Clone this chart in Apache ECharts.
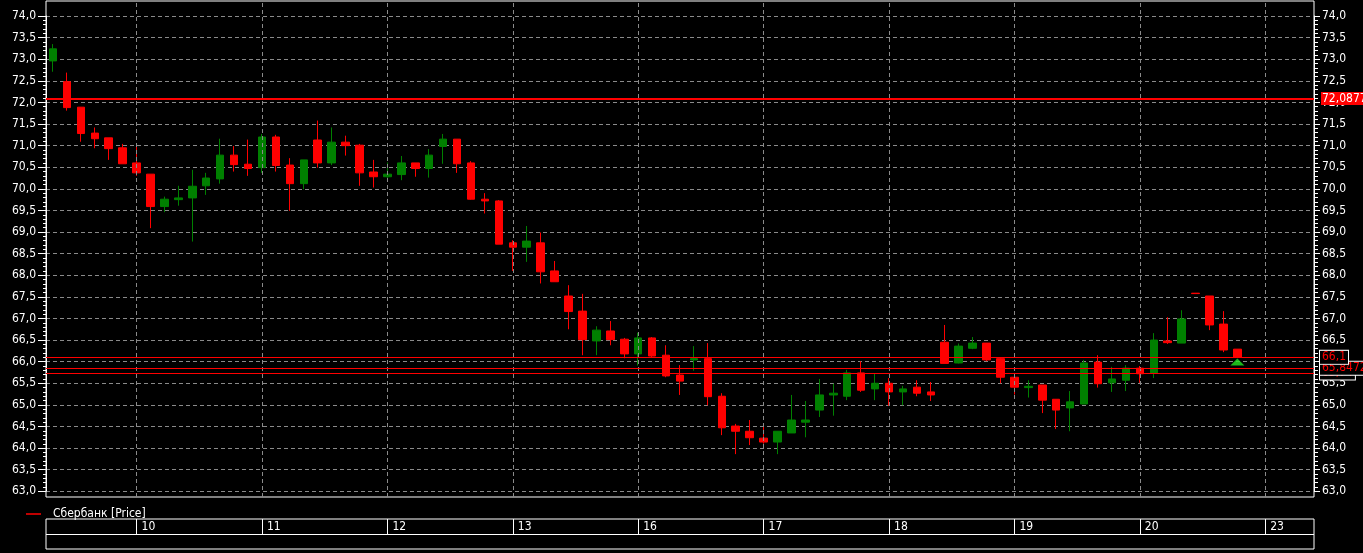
<!DOCTYPE html>
<html>
<head>
<meta charset="utf-8">
<script src="https://cdn.jsdelivr.net/npm/echarts@6/dist/echarts.min.js"></script>
<style>
html,body{margin:0;padding:0;background:#000;}
#chart{width:1363px;height:553px;}
</style>
</head>
<body>
<div id="chart"></div>
<script>
// ---- data ----
const seriesName = 'Сбербанк [Price]';
const dayLabels = ['9', '10', '11', '12', '13', '16', '17', '18', '19', '20', '23'];
const hoursPerDay = [6, 9, 9, 9, 9, 9, 9, 9, 9, 9, 4];
const firstHour = [13, 10, 10, 10, 10, 10, 10, 10, 10, 10, 10];
const shownDays = ['10', '11', '12', '13', '16', '17', '18', '19', '20', '23'];

const opens = [
  72.96, 72.48, 71.89, 71.29, 71.18, 70.95, 70.60, 70.34, 69.59, 69.75,
  69.79, 70.07, 70.23, 70.78, 70.57, 70.49, 71.20, 70.55, 70.12, 71.13,
  70.60, 71.08, 71.01, 70.39, 70.28, 70.33, 70.60, 70.47, 70.98, 71.15,
  70.60, 69.76, 69.72, 68.75, 68.65, 68.75, 68.10, 67.52, 67.17, 66.48,
  66.71, 66.52, 66.18, 66.55, 66.15, 65.69, 66.04, 66.07, 65.20, 64.51,
  64.39, 64.23, 64.14, 64.35, 64.60, 64.88, 65.23, 65.20, 65.74, 65.37,
  65.50, 65.30, 65.41, 65.30, 66.45, 65.97, 66.31, 66.43, 66.07, 65.64,
  65.40, 65.46, 65.13, 64.93, 65.02, 65.99, 65.51, 65.57, 65.85, 65.74,
  66.48, 66.43, 67.585, 67.52, 66.87, 66.29
];
const closes = [
  73.24, 71.88, 71.28, 71.16, 70.93, 70.58, 70.37, 69.59, 69.76, 69.79,
  70.06, 70.25, 70.78, 70.56, 70.47, 71.20, 70.54, 70.12, 70.67, 70.60,
  71.08, 71.00, 70.37, 70.28, 70.34, 70.60, 70.47, 70.78, 71.15, 70.58,
  69.76, 69.72, 68.72, 68.65, 68.79, 68.08, 67.85, 67.16, 66.51, 66.73,
  66.51, 66.18, 66.55, 66.13, 65.67, 65.55, 66.07, 65.19, 64.47, 64.39,
  64.24, 64.14, 64.39, 64.65, 64.65, 65.23, 65.27, 65.74, 65.34, 65.50,
  65.30, 65.37, 65.27, 65.23, 65.96, 66.36, 66.43, 66.04, 65.64, 65.41,
  65.43, 65.11, 64.88, 65.07, 65.97, 65.49, 65.60, 65.85, 65.72, 66.50,
  66.44, 66.99, 67.575, 66.85, 66.27, 66.10
];
const lows = [
  72.71, 71.81, 71.09, 70.94, 70.67, 70.58, 70.30, 69.09, 69.46, 69.61,
  68.78, 69.86, 70.12, 70.40, 70.30, 70.37, 70.40, 69.49, 69.99, 70.49,
  70.55, 70.77, 70.07, 70.03, 70.20, 70.20, 70.28, 70.26, 70.58, 70.37,
  69.75, 69.43, 68.72, 68.10, 68.31, 67.81, 67.85, 66.75, 66.15, 66.15,
  66.38, 66.08, 65.91, 66.09, 65.64, 65.23, 65.79, 64.99, 64.30, 63.86,
  64.07, 64.10, 63.86, 64.35, 64.25, 64.72, 64.75, 65.11, 65.30, 65.11,
  64.98, 64.99, 65.20, 65.09, 65.96, 65.96, 66.29, 66.01, 65.50, 65.24,
  65.17, 64.81, 64.44, 64.39, 65.02, 65.40, 65.30, 65.32, 65.51, 65.62,
  66.41, 66.43, 67.575, 66.73, 66.22, 66.10
];
const highs = [
  73.35, 72.69, 71.89, 71.42, 71.18, 71.04, 71.04, 70.34, 69.82, 70.07,
  70.44, 70.37, 71.16, 70.99, 71.14, 71.27, 71.25, 70.71, 70.67, 71.58,
  71.42, 71.23, 71.04, 70.67, 70.61, 70.76, 70.60, 70.92, 71.27, 71.15,
  70.64, 69.90, 69.74, 68.81, 69.14, 68.99, 68.33, 67.77, 67.57, 66.82,
  66.94, 66.55, 66.67, 66.57, 66.38, 65.92, 66.36, 66.43, 65.27, 64.56,
  64.65, 64.51, 64.39, 65.23, 65.09, 65.60, 65.49, 65.81, 66.01, 65.72,
  65.62, 65.44, 65.57, 65.53, 66.85, 66.42, 66.57, 66.43, 66.10, 65.74,
  65.57, 65.46, 65.13, 65.32, 66.04, 66.15, 65.88, 65.92, 65.90, 66.66,
  67.03, 67.19, 67.585, 67.52, 67.17, 66.29
];
const priceLevels = [65.74, 65.84722, 66.1, 72.08777];
const signalIndex = [85];
const signalValue = [65.99];

// ---- build ----
const categories = [];
const dayStartIndex = [];
dayLabels.forEach((d, di) => {
  for (let h = 0; h < hoursPerDay[di]; h++) {
    if (h === 0 && shownDays.indexOf(d) >= 0) dayStartIndex.push(categories.length);
    categories.push(d + ' ' + (firstHour[di] + h) + ':00');
  }
});
const candleData = opens.map((o, i) => [o, closes[i], lows[i], highs[i]]);
const signalData = signalIndex.map((x, i) => [x, signalValue[i]]);

const FONT = "'Liberation Sans Narrow', 'Arial Narrow', 'DejaVu Sans Condensed', sans-serif";
const fmt = v => Number(v).toFixed(1).replace('.', ',');
const levelText = v => String(v).replace('.', ',');

const levelLines = priceLevels.map((v, i) => {
  const top = v > 70;
  return {
    yAxis: v,
    lineStyle: { color: '#ff0000', width: top ? 2 : 1, type: 'solid' },
    label: top ? {
      show: true, position: 'end', distance: 7, formatter: levelText(v),
      color: '#ffffff', backgroundColor: '#ff0000', padding: [1, 1, 0, 1],
      fontFamily: FONT, fontSize: 12, lineHeight: 12
    } : {
      show: true, position: 'end', distance: 6, formatter: levelText(v),
      color: '#ff0000', backgroundColor: '#000000', borderColor: '#ffffff', borderWidth: 1,
      padding: [1, 2, 0, 2], fontFamily: FONT, fontSize: 12, lineHeight: 12
    }
  };
});

const yAxisCommon = {
  type: 'value', min: 63, max: 74, interval: 0.5, gridIndex: 1,
  axisLine: { show: true, lineStyle: { color: '#ffffff', width: 1 } },
  axisTick: { show: true, lineStyle: { color: '#ffffff' } },
  minorTick: { show: true, splitNumber: 5, length: 3, lineStyle: { color: '#ffffff' } },
  axisLabel: { color: '#ffffff', fontFamily: FONT, fontSize: 12, formatter: fmt }
};

const chart = echarts.init(document.getElementById('chart'), null, { renderer: 'canvas' });
chart.setOption({
  backgroundColor: '#000000',
  animation: false,
  textStyle: { fontFamily: FONT },
  legend: {
    left: 21, top: 503, itemWidth: 15, itemHeight: 1.5, itemGap: 10,
    selectedMode: false,
    data: [{ name: seriesName, icon: 'rect', itemStyle: { color: '#ff0000' } }],
    textStyle: { color: '#ffffff', fontFamily: FONT, fontSize: 12, padding: [0, 0, 0, 7] }
  },
  grid: [
    { left: 46, right: 49, top: 1, bottom: 56, show: true, borderColor: '#ffffff', borderWidth: 1, backgroundColor: 'transparent' },
    { left: 46, right: 49, top: 16, height: 475.3, show: false },
    { left: 46, right: 49, top: 519, height: 30, show: true, borderColor: '#ffffff', borderWidth: 1, backgroundColor: 'transparent' }
  ],
  xAxis: [
    { gridIndex: 0, type: 'category', data: categories, boundaryGap: true, show: false },
    { gridIndex: 1, type: 'category', data: categories, boundaryGap: true, show: false },
    {
      gridIndex: 2, type: 'category', data: categories, boundaryGap: true, position: 'top',
      axisLine: { show: false }, axisTick: { show: false }, splitLine: { show: false },
      axisLabel: {
        inside: true, margin: 2, color: '#ffffff', fontFamily: FONT, fontSize: 12,
        align: 'left', padding: [0, 0, 0, 5],
        interval: idx => dayStartIndex.indexOf(idx) >= 0,
        formatter: v => v.split(' ')[0]
      }
    }
  ],
  yAxis: [
    { gridIndex: 0, type: 'value', min: 0, max: 1, show: false },
    Object.assign({}, yAxisCommon, {
      position: 'left',
      axisTick: { show: true, length: 8, lineStyle: { color: '#ffffff' } },
      axisLabel: Object.assign({}, yAxisCommon.axisLabel, { margin: 10 }),
      splitLine: { show: true, lineStyle: { color: '#8a8a8a', type: [4, 3], width: 1 } }
    }),
    Object.assign({}, yAxisCommon, {
      position: 'right',
      axisTick: { show: true, length: 6, lineStyle: { color: '#ffffff' } },
      minorTick: { show: true, splitNumber: 5, length: 4, lineStyle: { color: '#ffffff' } },
      axisLabel: Object.assign({}, yAxisCommon.axisLabel, { margin: 8 }),
      splitLine: { show: false }
    }),
    { gridIndex: 2, type: 'value', min: 0, max: 2, show: false }
  ],
  series: [
    {
      name: seriesName, type: 'line', xAxisIndex: 0, yAxisIndex: 0,
      data: categories.map(() => '-'), itemStyle: { color: '#ff0000' }, silent: true,
      markLine: {
        silent: true, symbol: 'none', animation: false,
        label: { show: false },
        lineStyle: { color: '#8a8a8a', type: [4, 3], width: 1 },
        data: dayStartIndex.map(i => ({ xAxis: i }))
      }
    },
    {
      name: 'price', type: 'candlestick', xAxisIndex: 1, yAxisIndex: 1,
      data: candleData, barWidth: 8,
      itemStyle: { color: '#008000', color0: '#ff0000', borderColor: '#008000', borderColor0: '#ff0000', borderWidth: 1 },
      markLine: {
        silent: true, symbol: 'none', animation: false,
        data: levelLines
      }
    },
    {
      name: 'signal', type: 'scatter', xAxisIndex: 1, yAxisIndex: 1,
      data: signalData, symbol: 'triangle', symbolSize: [14, 7],
      itemStyle: { color: '#22e622' }, silent: true
    },
    {
      name: 'box', type: 'line', xAxisIndex: 2, yAxisIndex: 3,
      data: categories.map(() => '-'), silent: true,
      markLine: {
        silent: true, symbol: 'none', animation: false,
        label: { show: false },
        lineStyle: { color: '#ffffff', type: 'solid', width: 1 },
        data: [[{ xAxis: 0, yAxis: 1, x: 46 }, { yAxis: 1, x: 1314 }]].concat(
          dayStartIndex.map(i => [{ coord: [i, 1] }, { coord: [i, 2] }])
        )
      }
    }
  ]
});
</script>
</body>
</html>
